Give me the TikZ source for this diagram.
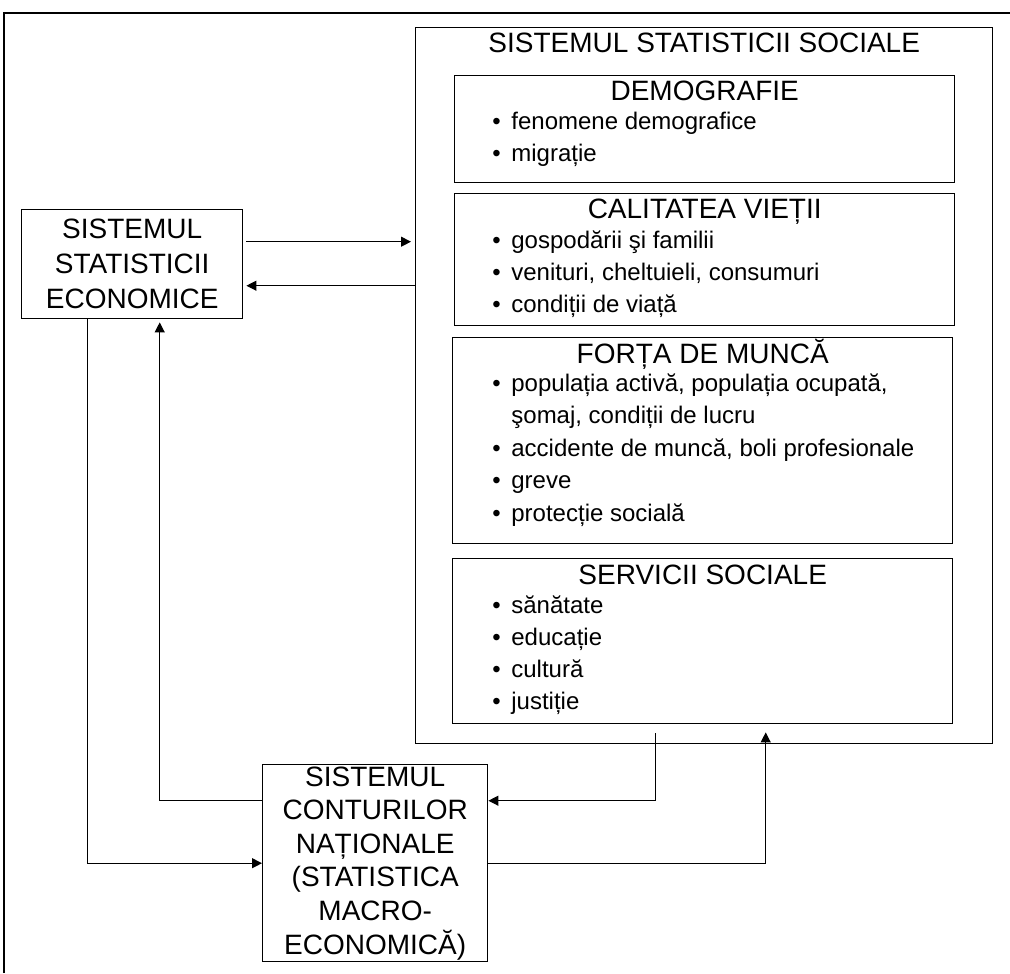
\documentclass[tikz,border=0pt]{standalone}
\usepackage{fontspec}
\setmainfont{Liberation Sans}
\usetikzlibrary{positioning}
\usetikzlibrary{arrows.meta}

\newcommand{\bul}{\makebox[9.5pt][l]{\textbullet}}
\newcommand{\nobul}{\hspace*{9.5pt}}

\begin{document}
\begin{tikzpicture}[x=0.5pt,y=-0.5pt,
    box/.style={draw=black,line width=0.7pt,rectangle,inner sep=0pt,anchor=north west},
    head/.style={font=\fontsize{14}{17}\selectfont,inner sep=0pt},
    item/.style={font=\fontsize{12}{16}\selectfont,anchor=base west,inner sep=0pt},
    sysbox/.style={draw=black,line width=0.7pt,rectangle,align=center,inner sep=0pt,anchor=north west},
    conn/.style={line width=0.55pt,-{Triangle[length=5pt,width=5pt]}}]
\useasboundingbox (0,0) rectangle (1010,973);
\draw[line width=0.9pt] (4,973) -- (4,13) -- (1010,13);

\node[box,minimum width=288.5pt,minimum height=358pt] (social) at (415,27) {};
\node[head] (socialtitle) [below=13pt of social.north,anchor=base] {SISTEMUL STATISTICII SOCIALE};

\node[box,minimum width=250pt,minimum height=53.5pt] (demo) at (454,75) {};
\node[box,minimum width=250pt,minimum height=66pt] (calit) at (454,193) {};
\node[box,minimum width=250pt,minimum height=103pt] (forta) at (452,337) {};
\node[box,minimum width=250pt,minimum height=82.5pt] (serv) at (452,558) {};

\node[head] (demotitle) [below=13pt of demo.north,anchor=base] {DEMOGRAFIE};
\node[head] (calittitle) [below=13pt of calit.north,anchor=base] {CALITATEA VIEȚII};
\node[head] (fortatitle) [below=13pt of forta.north,anchor=base] {FORȚA DE MUNCĂ};
\node[head] (servtitle) [below=13pt of serv.north,anchor=base] {SERVICII SOCIALE};

\foreach \t [count=\i from 0] in {{\bul fenomene demografice},{\bul migrație}}
  \node[item] (demo-\i) at ([shift={(38,{55+32*\i})}]demo.north west) {\t};
\foreach \t [count=\i from 0] in {{\bul gospodării şi familii},{\bul venituri, cheltuieli, consumuri},{\bul condiții de viață}}
  \node[item] (calit-\i) at ([shift={(38,{55+32*\i})}]calit.north west) {\t};
\foreach \t [count=\i from 0] in {{\bul populația activă, populația ocupată,},{\nobul şomaj, condiții de lucru},{\bul accidente de muncă, boli profesionale},{\bul greve},{\bul protecție socială}}
  \node[item] (forta-\i) at ([shift={(40,{54+32.5*\i})}]forta.north west) {\t};
\foreach \t [count=\i from 0] in {{\bul sănătate},{\bul educație},{\bul cultură},{\bul justiție}}
  \node[item] (serv-\i) at ([shift={(40,{55+32*\i})}]serv.north west) {\t};

\node[sysbox,minimum width=110.5pt,minimum height=54.5pt,font=\fontsize{14}{17.5}\selectfont] (sse) at (21,209) {SISTEMUL\\STATISTICII\\ECONOMICE};
\node[sysbox,minimum width=112.5pt,minimum height=98.5pt,font=\fontsize{14}{16.8}\selectfont] (scn) at (262,764) {SISTEMUL\\CONTURILOR\\NAȚIONALE\\(STATISTICA\\MACRO-\\ECONOMICĂ)};

\coordinate (tosocial) at ([shift={(3,-22.5)}]sse.east);
\coordinate (fromsocial) at ([shift={(0,-100)}]social.west);
\draw[conn,shorten >=2pt] (tosocial) -- (tosocial -| social.west);
\draw[conn,shorten >=1.5pt] (fromsocial) -- (fromsocial -| sse.east);
\draw[conn] ([shift={(-44.5,0)}]sse.south) |- (scn.west);
\draw[conn,shorten >=1.5pt] ([shift={(0,-62.5)}]scn.west) -| ([shift={(27.5,0)}]sse.south);
\draw[conn] ([shift={(-48.5,-11)}]social.south) |- ([shift={(0,-62.5)}]scn.east);
\draw[conn] (scn.east) -| ([shift={(61.5,-12)}]social.south);
\end{tikzpicture}
\end{document}
